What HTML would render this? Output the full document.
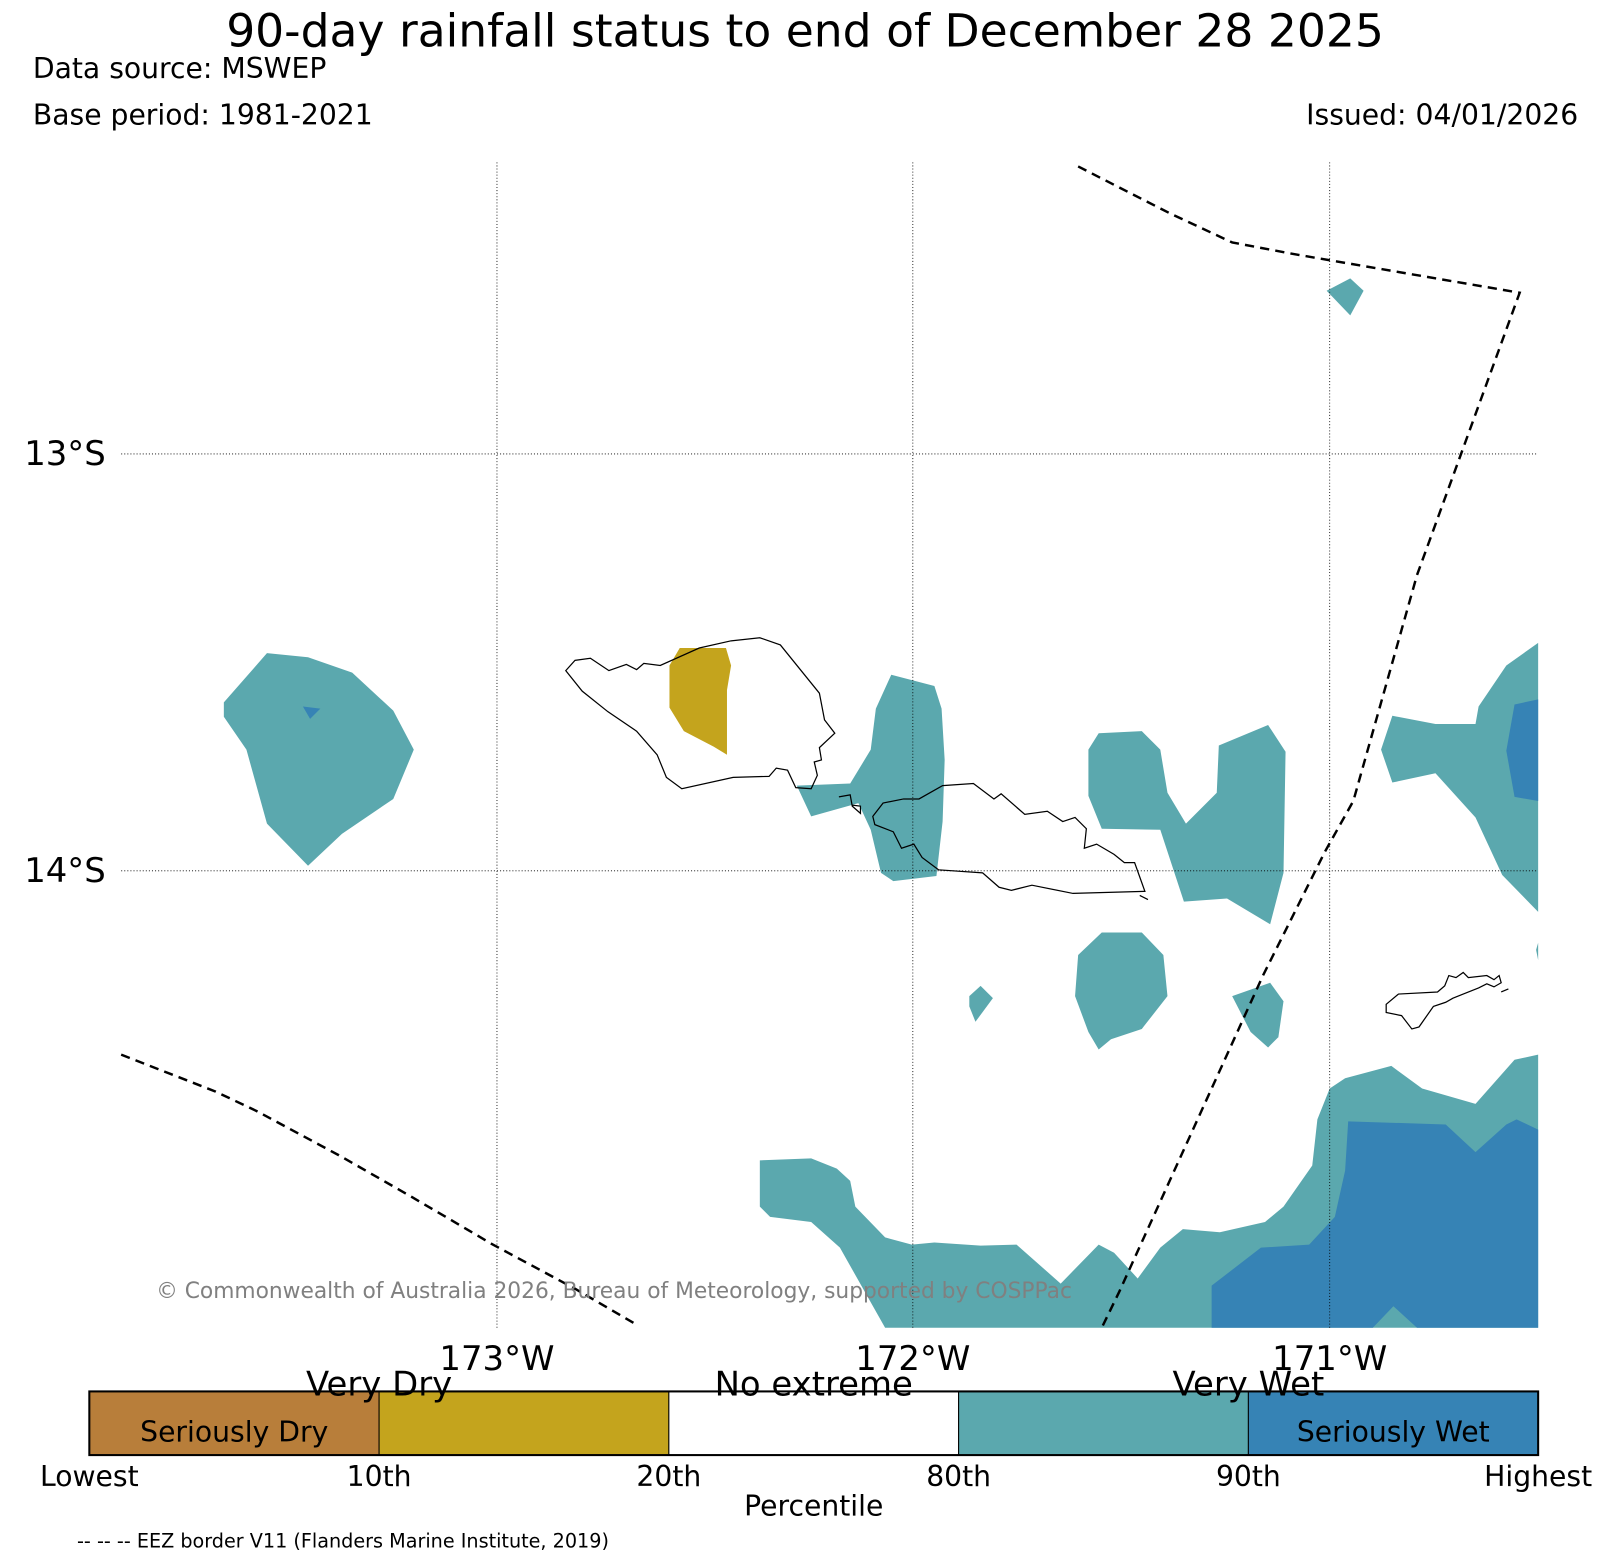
<!DOCTYPE html>
<html><head><meta charset="utf-8"><style>
html,body{margin:0;padding:0;background:#fff;}
svg{display:block;font-family:"DejaVu Sans","Liberation Sans",sans-serif;}
</style></head><body>
<svg id="chart" width="1609" height="1563" viewBox="0 0 1567 1522" xmlns="http://www.w3.org/2000/svg">
<text x="784" y="45" font-size="44.4" text-anchor="middle">90-day rainfall status to end of December 28 2025</text>
<text x="32" y="76" font-size="27.5">Data source: MSWEP</text>
<text x="32" y="121" font-size="27.5">Base period: 1981-2021</text>
<text x="1537" y="121" font-size="27.5" text-anchor="end">Issued: 04/01/2026</text>

<g>
<g stroke="none">
<polygon fill="#5ba8ae" points="260,636 300,640 343,655 383,692 403,730 383,778 333,812 300,843 260,802 240,730 218,698 218,684"/>
<polygon fill="#3683b5" points="295,688 312,690 302,700"/>
<polygon fill="#c4a41d" points="662,631 707,631 712,648 708,672 708,735 695,727 666,712 652,689 652,648"/>
<polygon fill="#5ba8ae" points="776,765 828,763 848,730 853,690 868,657 910,668 917,690 920,740 918,800 912,853 870,858 858,850 848,808 836,782 790,795"/>
<polygon fill="#5ba8ae" points="1070,714 1112,712 1130,730 1137,772 1155,802 1185,772 1187,726 1235,706 1252,732 1250,850 1237,900 1195,875 1153,878 1130,808 1073,807 1060,775 1060,730"/>
<polygon fill="#5ba8ae" points="1356,697 1398,705 1437,705 1440,688 1467,648 1498,626 1498,888 1463,852 1437,796 1398,753 1356,762 1345,730"/>
<polygon fill="#3683b5" points="1475,686 1498,681 1498,780 1475,776 1467,731"/>
<polygon fill="#5ba8ae" points="1073,908 1112,908 1133,930 1137,970 1112,1002 1082,1012 1070,1022 1060,1005 1047,970 1050,930"/>
<polygon fill="#5ba8ae" points="944,970 955,960 967,972 950,995 944,980"/>
<polygon fill="#5ba8ae" points="1200,970 1237,957 1250,975 1245,1010 1235,1020 1218,1005"/>
<polygon fill="#5ba8ae" points="1292,283 1315,271 1328,283 1315,307"/>
<polygon fill="#5ba8ae" points="1496,925 1498,918 1498,935"/>
<polygon fill="#5ba8ae" points="740,1130 790,1128 815,1138 828,1150 833,1175 862,1205 888,1212 910,1210 955,1213 990,1212 1033,1250 1070,1212 1085,1220 1108,1245 1130,1215 1152,1197 1188,1200 1232,1190 1250,1175 1278,1135 1283,1090 1295,1060 1310,1050 1355,1038 1385,1060 1437,1075 1475,1032 1498,1027 1498,1293 862,1293 818,1215 790,1190 750,1185 740,1175"/>
<polygon fill="#3683b5" points="1313,1092 1408,1095 1437,1122 1467,1095 1477,1090 1498,1100 1498,1293 1380,1293 1357,1272 1337,1293 1180,1293 1180,1252 1228,1215 1275,1212 1300,1185 1310,1140"/>
</g>
<g stroke="#000" stroke-width="0.8" stroke-dasharray="1,2">
<line x1="484" y1="158" x2="484" y2="1293"/>
<line x1="889" y1="158" x2="889" y2="1293"/>
<line x1="1295" y1="158" x2="1295" y2="1293"/>
<line x1="118" y1="442" x2="1498" y2="442"/>
<line x1="118" y1="848" x2="1498" y2="848"/>
</g>
<g fill="none" stroke="#000" stroke-width="1.2">
<polygon points="551,653 560,643 575,641 593,653 610,647 620,652 627,646 643,648 681,631 712,624 740,621 760,628 798,675 803,701 813,714 798,728 800,740 793,742 796,755 790,768 775,767 767,750 756,748 749,756 714,757 664,768 649,757 640,735 620,712 592,693 567,673"/>
<polygon points="850,795 860,782 880,778 895,778 918,765 948,763 968,778 975,773 998,793 1020,790 1035,800 1047,796 1058,807 1056,826 1068,822 1085,832 1095,840 1105,840 1115,868 1045,870 1005,862 985,867 973,864 957,850 914,847 898,835 890,822 878,826 870,810 852,803"/>
<polyline points="817,776 828,774 830,785 838,792 838,785 830,784"/>
<polygon points="1350,978 1362,968 1400,966 1407,960 1411,950 1418,952 1425,947 1430,952 1448,950 1455,954 1460,950 1462,957 1455,961 1448,958 1440,962 1425,968 1415,972 1408,976 1396,980 1382,1000 1375,1002 1365,989 1350,986"/>
<line x1="1462" y1="966" x2="1469" y2="963"/>
<line x1="1110" y1="872" x2="1118" y2="876"/>
</g>
<g fill="none" stroke="#000" stroke-width="2.4" stroke-dasharray="9,6">
<polyline points="1050,162 1140,208 1200,236 1258,247 1480,285 1440,395 1380,560 1318,780 1290,830 1230,950 1090,1258 1073,1293"/>
<polyline points="118,1027 210,1063 250,1082 330,1125 400,1165 480,1212 560,1255 620,1290"/>
</g>
<text x="152" y="1264" font-size="21.2" fill="#808080">© Commonwealth of Australia 2026, Bureau of Meteorology, supported by COSPPac</text>
</g>

<g font-size="33">
<text x="103" y="453" text-anchor="end">13°S</text>
<text x="103" y="859" text-anchor="end">14°S</text>
<text x="484" y="1334" text-anchor="middle">173°W</text>
<text x="889" y="1334" text-anchor="middle">172°W</text>
<text x="1295" y="1334" text-anchor="middle">171°W</text>
</g>

<g id="colorbar"></g>
<text x="75" y="1507" font-size="18.7">-- -- -- EEZ border V11 (Flanders Marine Institute, 2019)</text>
</svg>
<script>
const categories = ["Seriously Dry", "Very Dry", "No extreme", "Very Wet", "Seriously Wet"];
const categoryColors = ["#b87e3a", "#c4a41d", "#ffffff", "#5ba8ae", "#3683b5"];
const tickLabels = ["Lowest", "10th", "20th", "80th", "90th", "Highest"];
const groupLabels = ["Very Dry", "No extreme", "Very Wet"];
const groupPositions = [1, 2.5, 4];
const innerLabels = ["Seriously Dry", "", "", "", "Seriously Wet"];

const NS = "http://www.w3.org/2000/svg";
const cb = document.getElementById("colorbar");
const x0 = 87, x1 = 1498, y0 = 1355, h = 62;
const n = categories.length;
const xs = i => x0 + (x1 - x0) * i / n;
function mk(tag, attrs) {
  const e = document.createElementNS(NS, tag);
  for (const k in attrs) e.setAttribute(k, attrs[k]);
  return e;
}
categories.forEach((c, i) => {
  const r = mk("rect", {x: xs(i), y: y0, width: xs(i + 1) - xs(i), height: h, fill: categoryColors[i], stroke: "#000", "stroke-width": 1});
  
  
  cb.appendChild(r);
  if (innerLabels[i]) {
    const t = mk("text", {x: (xs(i) + xs(i + 1)) / 2, y: y0 + 49, "font-size": 27.5, "text-anchor": "middle"});
    t.textContent = innerLabels[i];
    
    
    cb.appendChild(t);
  }
});
const border = mk("rect", {x: x0, y: y0, width: x1 - x0, height: h, fill: "none", stroke: "#000", "stroke-width": 2});


cb.appendChild(border);
tickLabels.forEach((l, i) => {
  const t = mk("text", {x: xs(i), y: 1447, "font-size": 27.5, "text-anchor": "middle"});
  t.textContent = l;
  
  
  cb.appendChild(t);
});
groupLabels.forEach((l, i) => {
  const t = mk("text", {x: xs(groupPositions[i]), y: 1359, "font-size": 33, "text-anchor": "middle"});
  t.textContent = l;
  
  
  cb.appendChild(t);
});
const pt = mk("text", {x: (x0 + x1) / 2, y: 1476, "font-size": 27.5, "text-anchor": "middle"});
pt.textContent = "Percentile";


cb.appendChild(pt);
</script>
</body></html>
